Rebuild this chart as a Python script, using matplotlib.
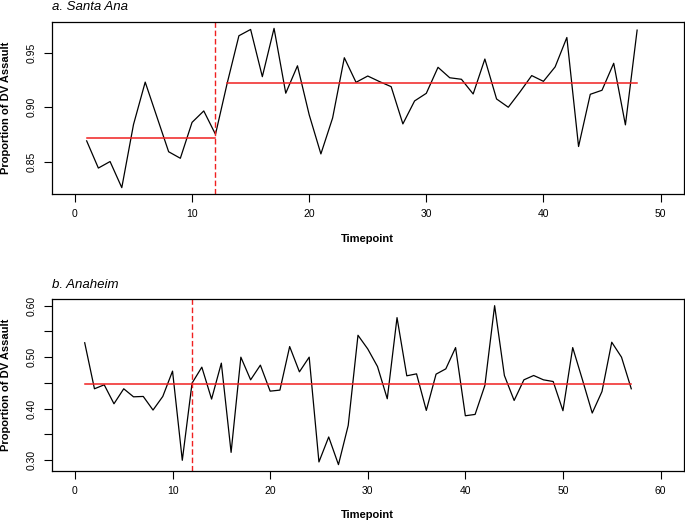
import numpy as np
import matplotlib
matplotlib.use("Agg")
import matplotlib.pyplot as plt
from matplotlib.ticker import FixedLocator, FormatStrFormatter

plt.rcParams['font.family'] = ['Liberation Sans', 'DejaVu Sans']

# Santa Ana, proportion of DV assault per timepoint
santa_ana = [0.869, 0.844, 0.850, 0.826, 0.884, 0.923, 0.891, 0.859, 0.853, 0.886,
             0.8965, 0.875, 0.922, 0.9656, 0.9714, 0.928, 0.9724, 0.9128, 0.938, 0.893,
             0.857, 0.890, 0.9454, 0.9228, 0.9286, 0.9235, 0.9188, 0.8846, 0.9057, 0.9127,
             0.9366, 0.927, 0.9256, 0.9121, 0.9442, 0.9075, 0.8999, 0.914, 0.929, 0.9237,
             0.937, 0.964, 0.8638, 0.9118, 0.9155, 0.9403, 0.8837, 0.9708]

# Anaheim
anaheim = [0.528, 0.4386, 0.4463, 0.4095, 0.4386, 0.423, 0.4237, 0.3973, 0.4237, 0.4729,
           0.2997, 0.4496, 0.4806, 0.4186, 0.4884, 0.3151, 0.500, 0.456, 0.4845, 0.434,
           0.436, 0.5206, 0.4715, 0.500, 0.2965, 0.345, 0.2913, 0.3675, 0.5425, 0.516,
           0.4818, 0.4192, 0.5768, 0.4638, 0.4676, 0.3966, 0.467, 0.4773, 0.5186, 0.3862,
           0.3888, 0.445, 0.600, 0.4644, 0.4159, 0.456, 0.4644, 0.456, 0.4527, 0.396,
           0.5186, 0.456, 0.3915, 0.4333, 0.529, 0.500, 0.4386]

intervention = 12


def r_lims(lo, hi):
    # R style 4% padding
    pad = (hi - lo) * 0.04
    return lo - pad, hi + pad


def style_axes(ax, title, xmax):
    ax.set_xlim(*r_lims(0, xmax))
    ax.set_xticks(np.arange(0, xmax + 1, 10))
    ax.tick_params(axis='both', which='both', direction='out', length=6, width=0.8,
                   labelsize=7.5, pad=5)
    for lab in ax.get_yticklabels():
        lab.set_rotation(90)
        lab.set_va('center')
    for sp in ax.spines.values():
        sp.set_linewidth(0.9)
    ax.set_xlabel('Timepoint', fontsize=8, fontweight='bold')
    ax.set_ylabel('Proportion of DV Assault', fontsize=8, fontweight='bold')
    ax.yaxis.set_label_coords(-0.064, 0.5)
    ax.xaxis.set_label_coords(0.5, -0.23)
    ax.set_title(title, loc='left', fontsize=9.5, fontstyle='italic', pad=8.5)


fig = plt.figure(figsize=(6.85, 5.21), dpi=100)

# a. Santa Ana
ax1 = fig.add_axes([0.0752, 0.6276, 0.9233, 0.3302])
t1 = np.arange(1, len(santa_ana) + 1)
y1 = np.array(santa_ana)
ax1.plot(t1, y1, color='black', lw=0.9)
pre = y1[:intervention].mean()
post = y1[intervention:].mean()
ax1.plot([1, intervention], [pre, pre], color='#f02020', lw=1.1)
ax1.plot([intervention + 1, len(y1)], [post, post], color='#f02020', lw=1.1)
ax1.axvline(intervention, color='#f02020', lw=1.0, dashes=(4, 2))
ax1.set_ylim(*r_lims(y1.min(), y1.max()))
ax1.set_yticks([0.85, 0.90, 0.95])
ax1.yaxis.set_major_formatter(FormatStrFormatter('%.2f'))
style_axes(ax1, 'a. Santa Ana', 50)

# b. Anaheim
ax2 = fig.add_axes([0.0752, 0.096, 0.9233, 0.3295])
t2 = np.arange(1, len(anaheim) + 1)
y2 = np.array(anaheim)
ax2.plot(t2, y2, color='black', lw=0.9)
m2 = y2.mean()
ax2.plot([1, len(y2)], [m2, m2], color='#f02020', lw=1.1)
ax2.axvline(intervention, color='#f02020', lw=1.0, dashes=(4, 2))
ax2.set_ylim(*r_lims(y2.min(), y2.max()))
ax2.set_yticks([0.30, 0.40, 0.50, 0.60])
ax2.yaxis.set_minor_locator(FixedLocator([0.35, 0.45, 0.55]))
ax2.yaxis.set_major_formatter(FormatStrFormatter('%.2f'))
style_axes(ax2, 'b. Anaheim', 60)

fig.savefig('out.png', dpi=100)
